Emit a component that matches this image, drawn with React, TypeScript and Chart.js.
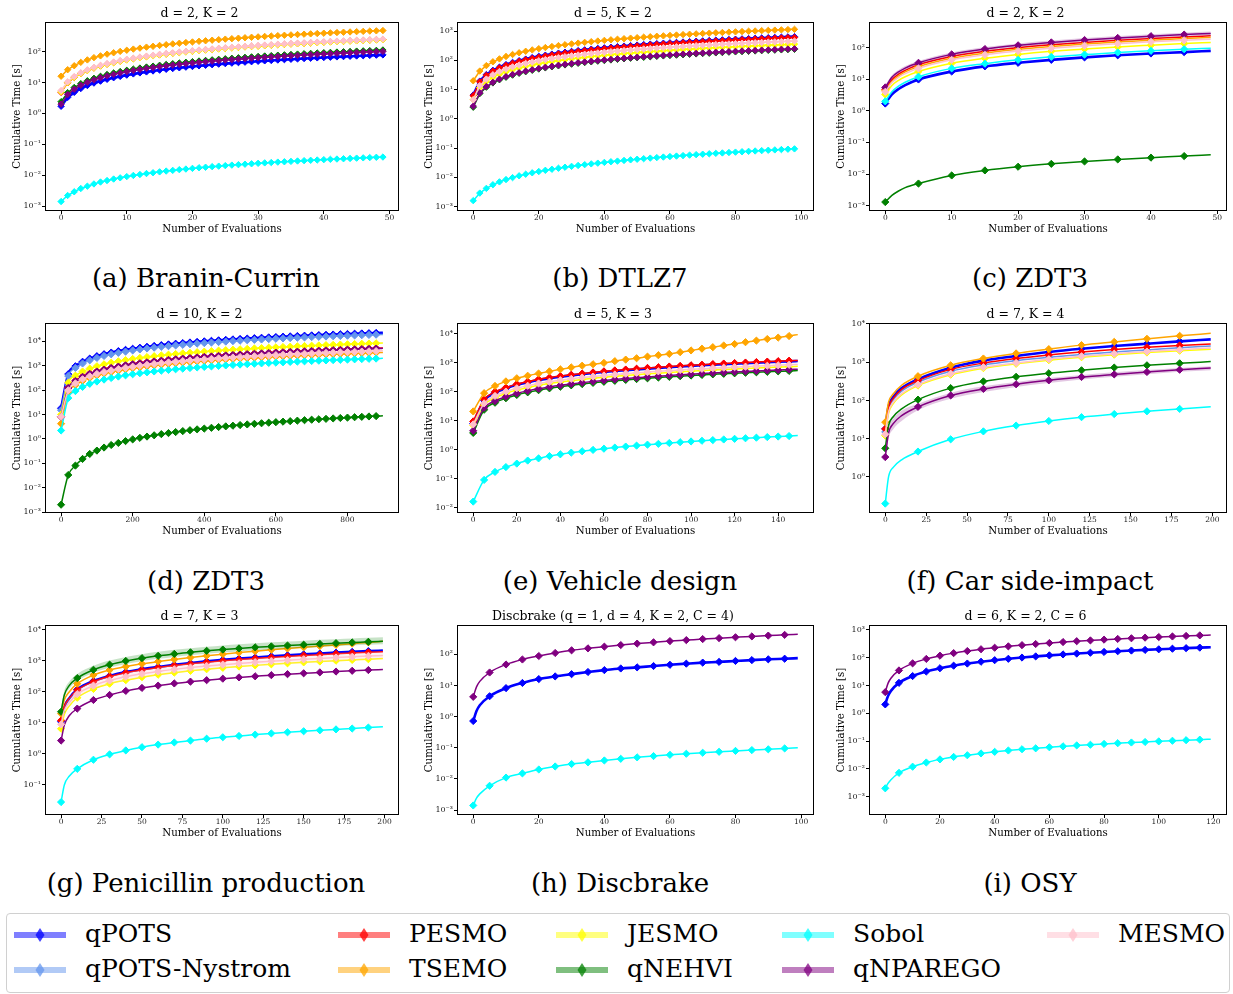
import React, { useEffect, useRef } from "react";
import { Chart, registerables } from "chart.js";
Chart.register(...registerables);

// ---------------- series identity ----------------
const SERIES_NAMES = ["qPOTS", "qPOTS-Nystrom", "PESMO", "TSEMO", "JESMO", "qNEHVI", "Sobol", "qNPAREGO", "MESMO"];
const SERIES_COLORS = ["#0000ff", "#6495ed", "#ff0000", "#ffa500", "#ffff00", "#008000", "#00ffff", "#800080", "#ffc0cb"];

// ---------------- (a) Branin-Currin ----------------
const evalsA = Array.from({ length: 50 }, (_, i) => i);
const qpotsA = [1.7, 3.3, 4.8, 6.4, 8.0, 9.6, 11.1, 12.7, 14.3, 15.8, 17.4, 19.0, 20.5, 22.1, 23.7, 25.3, 26.8, 28.4, 30.0, 31.5, 33.1, 34.7, 36.2, 37.8, 39.4, 41.0, 42.5, 44.1, 45.7, 47.2, 48.8, 50.4, 51.9, 53.5, 55.1, 56.7, 58.2, 59.8, 61.4, 62.9, 64.5, 66.1, 67.6, 69.2, 70.8, 72.4, 73.9, 75.5, 77.1, 78.6];
const pesmoA = [4.8, 9.8, 14.7, 19.7, 24.6, 29.6, 34.5, 39.5, 44.4, 49.4, 54.3, 59.3, 64.2, 69.2, 74.1, 79.1, 84, 89, 94, 99, 104, 109, 114, 119, 124, 129, 134, 139, 143, 148, 153, 158, 163, 168, 173, 178, 183, 188, 193, 198, 203, 208, 213, 218, 223, 228, 233, 237, 242, 247];
const tsemoA = [16, 26, 35, 45, 54, 64, 73, 83, 92, 102, 111, 121, 130, 140, 149, 159, 168, 178, 187, 197, 206, 216, 225, 235, 244, 254, 263, 273, 282, 292, 301, 311, 320, 330, 339, 349, 358, 368, 377, 387, 396, 406, 415, 425, 434, 444, 453, 463, 472, 482];
const jesmoA = [5.0, 9.9, 14.7, 19.6, 24.4, 29.3, 34.1, 39, 43.8, 48.7, 53.5, 58.4, 63.2, 68.1, 72.9, 77.8, 82.6, 87.5, 92.3, 97.2, 102, 107, 112, 117, 121, 126, 131, 136, 141, 146, 150, 155, 160, 165, 170, 175, 180, 184, 189, 194, 199, 204, 209, 213, 218, 223, 228, 233, 238, 243];
const qnehviA = [2.4, 4.7, 6.9, 9.2, 11.4, 13.7, 15.9, 18.2, 20.4, 22.7, 24.9, 27.2, 29.4, 31.7, 33.9, 36.2, 38.4, 40.7, 42.9, 45.2, 47.4, 49.7, 51.9, 54.2, 56.4, 58.7, 60.9, 63.2, 65.4, 67.7, 69.9, 72.2, 74.4, 76.7, 78.9, 81.2, 83.4, 85.7, 87.9, 90.2, 92.4, 94.7, 96.9, 99.2, 101, 104, 106, 108, 110, 113];
const sobolA = [0.0014, 0.0022, 0.0029, 0.0037, 0.0044, 0.0052, 0.006, 0.0067, 0.0075, 0.0082, 0.009, 0.0098, 0.0105, 0.0113, 0.012, 0.0128, 0.0136, 0.0143, 0.0151, 0.0158, 0.0166, 0.0174, 0.0181, 0.0189, 0.0196, 0.0204, 0.0212, 0.0219, 0.0227, 0.0234, 0.0242, 0.025, 0.0257, 0.0265, 0.0272, 0.028, 0.0288, 0.0295, 0.0303, 0.031, 0.0318, 0.0326, 0.0333, 0.0341, 0.0348, 0.0356, 0.0364, 0.0371, 0.0379, 0.0386];
const qnparegoA = [2.0, 4.1, 6.1, 8.2, 10.2, 12.3, 14.3, 16.4, 18.4, 20.5, 22.5, 24.6, 26.6, 28.7, 30.7, 32.8, 34.8, 36.9, 38.9, 41, 43, 45.1, 47.1, 49.2, 51.2, 53.3, 55.3, 57.4, 59.4, 61.5, 63.5, 65.6, 67.6, 69.7, 71.7, 73.8, 75.8, 77.9, 79.9, 82, 84, 86.1, 88.1, 90.2, 92.2, 94.3, 96.3, 98.4, 100, 102];
const mesmoA = [5.5, 10.6, 15.7, 20.8, 25.9, 31, 36.1, 41.2, 46.3, 51.4, 56.5, 61.6, 66.7, 71.8, 76.9, 82, 87.1, 92.2, 97.3, 102, 108, 113, 118, 123, 128, 133, 138, 143, 148, 153, 159, 164, 169, 174, 179, 184, 189, 194, 199, 204, 210, 215, 220, 225, 230, 235, 240, 245, 250, 255];

// ---------------- (b) DTLZ7 ----------------
const evalsB = Array.from({ length: 50 }, (_, i) => i * 2);
const qpotsB = [6.5, 19.5, 32.5, 45.5, 58.5, 71.5, 84.5, 97.5, 110, 124, 137, 150, 163, 176, 189, 202, 215, 228, 241, 254, 267, 280, 293, 306, 319, 332, 345, 358, 371, 384, 397, 410, 423, 436, 449, 462, 475, 488, 501, 514, 527, 540, 553, 566, 579, 592, 605, 618, 631, 644];
const pesmoB = [6.2, 18.4, 30.6, 42.8, 55, 67.2, 79.4, 91.6, 104, 116, 128, 140, 153, 165, 177, 189, 201, 214, 226, 238, 250, 262, 275, 287, 299, 311, 323, 336, 348, 360, 372, 384, 397, 409, 421, 433, 445, 458, 470, 482, 494, 506, 519, 531, 543, 555, 567, 580, 592, 604];
const tsemoB = [20, 43, 66, 89, 112, 135, 158, 181, 204, 227, 250, 273, 296, 319, 342, 365, 388, 411, 434, 457, 480, 503, 526, 549, 572, 595, 618, 641, 664, 687, 710, 733, 756, 779, 802, 825, 848, 871, 894, 917, 940, 963, 986, 1009, 1032, 1055, 1078, 1101, 1124, 1147];
const jesmoB = [4.5, 11.7, 18.9, 26.1, 33.3, 40.5, 47.7, 54.9, 62.1, 69.3, 76.5, 83.7, 90.9, 98.1, 105, 113, 120, 127, 134, 141, 149, 156, 163, 170, 177, 185, 192, 199, 206, 213, 221, 228, 235, 242, 249, 257, 264, 271, 278, 285, 293, 300, 307, 314, 321, 329, 336, 343, 350, 357];
const qnehviB = [2.5, 7.3, 12.1, 16.9, 21.7, 26.5, 31.3, 36.1, 40.9, 45.7, 50.5, 55.3, 60.1, 64.9, 69.7, 74.5, 79.3, 84.1, 88.9, 93.7, 98.5, 103, 108, 113, 118, 123, 127, 132, 137, 142, 147, 151, 156, 161, 166, 171, 175, 180, 185, 190, 195, 199, 204, 209, 214, 219, 223, 228, 233, 238];
const sobolB = [0.0016, 0.0029, 0.0042, 0.0056, 0.007, 0.0084, 0.0098, 0.0113, 0.0128, 0.0143, 0.0158, 0.0174, 0.0189, 0.0205, 0.0222, 0.0238, 0.0255, 0.0272, 0.0289, 0.0306, 0.0324, 0.0342, 0.036, 0.0379, 0.0397, 0.0416, 0.0435, 0.0455, 0.0474, 0.0494, 0.0514, 0.0534, 0.0555, 0.0576, 0.0597, 0.0618, 0.064, 0.0661, 0.0683, 0.0706, 0.0728, 0.0751, 0.0774, 0.0797, 0.082, 0.0844, 0.0868, 0.0892, 0.0917, 0.0941];
const qnparegoB = [2.7, 7.7, 12.7, 17.7, 22.7, 27.7, 32.7, 37.7, 42.7, 47.7, 52.7, 57.7, 62.7, 67.7, 72.7, 77.7, 82.7, 87.7, 92.7, 97.7, 103, 108, 113, 118, 123, 128, 133, 138, 143, 148, 153, 158, 163, 168, 173, 178, 183, 188, 193, 198, 203, 208, 213, 218, 223, 228, 233, 238, 243, 248];
const mesmoB = [4.5, 13.7, 22.9, 32.1, 41.3, 50.5, 59.7, 68.9, 78.1, 87.3, 96.5, 106, 115, 124, 133, 143, 152, 161, 170, 179, 189, 198, 207, 216, 225, 235, 244, 253, 262, 271, 281, 290, 299, 308, 317, 327, 336, 345, 354, 363, 373, 382, 391, 400, 409, 419, 428, 437, 446, 455];

// ---------------- (c) ZDT3 (d=2) ----------------
const evalsC = [0, 1, 2, 3, 5, 10, 15, 20, 25, 30, 35, 40, 45, 49];
const qpotsC = [1.7, 3.3, 4.9, 6.5, 9.8, 17.5, 25.5, 33, 41, 49, 57, 65, 72, 79];
const pesmoC = [4.8, 9.6, 14.5, 19, 28.5, 52, 76, 99, 122, 146, 170, 193, 217, 235];
const tsemoC = [4.3, 8.5, 12.8, 17, 25, 46, 67, 88, 109, 130, 151, 172, 193, 210];
const jesmoC = [3.3, 6.3, 9.2, 12, 17.5, 32, 46, 61, 76, 90, 105, 119, 134, 146];
const qnehviC = [0.0013, 0.0021, 0.0029, 0.0037, 0.005, 0.009, 0.013, 0.017, 0.021, 0.025, 0.029, 0.033, 0.037, 0.041];
const sobolC = [2.0, 4.0, 6.0, 8.0, 12, 22, 31, 41, 51, 60, 70, 79, 89, 96];
const qnparegoC = [5.5, 11.5, 17, 22.5, 33, 61, 90, 118, 146, 174, 202, 230, 258, 280];
const mesmoC = [4.0, 7.8, 11.5, 15, 22, 41, 59, 78, 96, 115, 133, 152, 170, 185];
const qnparegoUpperC = [6.4, 13.3, 19.6, 26, 38, 70, 104, 136, 168, 200, 232, 265, 297, 322];
const qnparegoLowerC = [4.8, 10, 14.8, 19.6, 28.7, 53, 78, 103, 127, 151, 176, 200, 224, 244];

// ---------------- (d) ZDT3 (d=10) ----------------
const evalsD = [...Array.from({ length: 45 }, (_, i) => i * 20), 899];
const qpotsD = [18, 450, 950, 1450, 1950, 2450, 2950, 3450, 3950, 4450, 4950, 5450, 5950, 6450, 6950, 7450, 7950, 8450, 8950, 9450, 9950, 10450, 10950, 11450, 11950, 12450, 12950, 13450, 13950, 14450, 14950, 15450, 15950, 16450, 16950, 17450, 17950, 18450, 18950, 19450, 19950, 20450, 20950, 21450, 21950, 22400];
const nystromD = [15, 380, 810, 1230, 1660, 2080, 2510, 2930, 3360, 3780, 4210, 4630, 5060, 5480, 5910, 6330, 6760, 7180, 7610, 8030, 8460, 8880, 9310, 9730, 10160, 10580, 11010, 11430, 11860, 12280, 12710, 13130, 13560, 13980, 14410, 14830, 15260, 15680, 16110, 16530, 16960, 17380, 17810, 18230, 18660, 19040];
const pesmoD = [8, 126, 244, 362, 480, 598, 716, 834, 952, 1070, 1190, 1305, 1425, 1545, 1660, 1780, 1900, 2015, 2135, 2250, 2370, 2485, 2605, 2725, 2840, 2960, 3075, 3195, 3310, 3430, 3550, 3665, 3785, 3900, 4020, 4140, 4255, 4375, 4490, 4610, 4730, 4845, 4965, 5080, 5200, 5310];
const tsemoD = [4.2, 82, 160, 238, 316, 394, 472, 550, 628, 706, 784, 862, 940, 1018, 1096, 1174, 1252, 1330, 1408, 1486, 1564, 1642, 1720, 1798, 1876, 1954, 2032, 2110, 2188, 2266, 2344, 2422, 2500, 2578, 2656, 2734, 2812, 2890, 2968, 3046, 3124, 3202, 3280, 3358, 3436, 3510];
const jesmoD = [10, 200, 390, 575, 760, 950, 1140, 1325, 1510, 1700, 1890, 2080, 2265, 2450, 2640, 2830, 3015, 3200, 3390, 3580, 3770, 3955, 4140, 4330, 4520, 4705, 4890, 5080, 5270, 5460, 5650, 5835, 6020, 6210, 6400, 6590, 6780, 6965, 7150, 7340, 7530, 7720, 7905, 8090, 8280, 8460];
const qnehviD = [0.002, 0.033, 0.08, 0.15, 0.24, 0.33, 0.44, 0.56, 0.68, 0.81, 0.95, 1.1, 1.24, 1.4, 1.56, 1.73, 1.9, 2.08, 2.26, 2.45, 2.64, 2.84, 3.05, 3.25, 3.46, 3.68, 3.9, 4.13, 4.36, 4.59, 4.83, 5.07, 5.32, 5.57, 5.83, 6.09, 6.35, 6.61, 6.88, 7.16, 7.43, 7.71, 8.0, 8.28, 8.57, 8.8];
const sobolD = [2.2, 47, 91, 135, 180, 224, 269, 313, 358, 402, 446, 491, 535, 580, 624, 668, 713, 757, 802, 846, 890, 935, 979, 1024, 1068, 1112, 1157, 1201, 1246, 1290, 1334, 1379, 1423, 1468, 1512, 1556, 1601, 1645, 1690, 1734, 1778, 1823, 1867, 1912, 1956, 2000];
const qnparegoD = [8, 122, 236, 350, 464, 578, 692, 806, 920, 1034, 1150, 1260, 1375, 1490, 1605, 1720, 1830, 1945, 2060, 2175, 2290, 2400, 2515, 2630, 2745, 2860, 2970, 3085, 3200, 3315, 3430, 3540, 3655, 3770, 3885, 4000, 4110, 4225, 4340, 4455, 4570, 4680, 4795, 4910, 5025, 5130];
const mesmoD = [8, 98, 188, 278, 368, 458, 548, 638, 728, 818, 908, 998, 1088, 1178, 1268, 1358, 1448, 1538, 1628, 1718, 1808, 1898, 1988, 2078, 2168, 2258, 2348, 2438, 2528, 2618, 2708, 2798, 2888, 2978, 3068, 3158, 3248, 3338, 3428, 3518, 3608, 3698, 3788, 3878, 3968, 4054];

// ---------------- (e) Vehicle design ----------------
const evalsE = [...Array.from({ length: 30 }, (_, i) => i * 5), 149];
const qpotsE = [8, 50, 93, 132, 175, 213, 255, 293, 332, 370, 408, 446, 484, 522, 560, 598, 636, 674, 712, 750, 788, 826, 864, 902, 940, 978, 1016, 1054, 1092, 1130, 1160];
const pesmoE = [9.5, 55, 100, 140, 185, 225, 270, 310, 350, 390, 430, 470, 510, 550, 590, 630, 670, 710, 750, 790, 830, 870, 910, 950, 990, 1030, 1070, 1110, 1150, 1190, 1220];
const tsemoE = [21, 90, 160, 230, 295, 360, 430, 510, 600, 700, 800, 900, 1000, 1150, 1300, 1450, 1650, 1850, 2050, 2350, 2700, 3100, 3500, 4000, 4500, 5200, 5900, 6700, 7500, 8500, 9500];
const jesmoE = [7, 35, 62, 88, 115, 140, 168, 193, 218, 243, 268, 293, 318, 343, 368, 393, 418, 443, 468, 493, 518, 543, 568, 593, 618, 643, 668, 693, 718, 743, 760];
const qnehviE = [3.8, 24, 42, 60, 78, 96, 114, 132, 150, 168, 186, 204, 222, 240, 258, 276, 294, 312, 330, 348, 366, 384, 402, 420, 438, 456, 474, 492, 510, 528, 545];
const sobolE = [0.016, 0.09, 0.17, 0.25, 0.33, 0.42, 0.5, 0.6, 0.69, 0.79, 0.88, 0.98, 1.08, 1.18, 1.28, 1.38, 1.49, 1.59, 1.7, 1.81, 1.92, 2.03, 2.14, 2.25, 2.37, 2.48, 2.6, 2.72, 2.84, 2.96, 3.06];
const qnparegoE = [4.5, 28, 48, 68, 88, 108, 128, 148, 168, 188, 208, 228, 248, 268, 288, 308, 328, 348, 368, 388, 408, 428, 448, 468, 488, 508, 528, 548, 568, 588, 605];
const mesmoE = [7.5, 40, 72, 102, 133, 162, 195, 223, 252, 281, 310, 338, 367, 396, 425, 454, 482, 511, 540, 569, 598, 626, 655, 684, 713, 742, 770, 799, 828, 857, 880];

// ---------------- (f) Car side-impact ----------------
const evalsF = [0, 2, 5, 10, 20, 40, 60, 80, 100, 120, 140, 160, 180, 199];
const qpotsF = [18, 70, 125, 210, 360, 720, 1100, 1450, 1850, 2250, 2650, 3050, 3500, 3950];
const nystromF = [15, 58, 105, 175, 300, 580, 850, 1100, 1350, 1600, 1850, 2100, 2400, 2650];
const pesmoF = [18, 65, 115, 195, 330, 650, 950, 1250, 1550, 1850, 2150, 2450, 2750, 3000];
const tsemoF = [27, 90, 150, 250, 430, 830, 1250, 1700, 2200, 2800, 3400, 4100, 4900, 5700];
const jesmoF = [12, 46, 84, 140, 245, 470, 700, 910, 1130, 1350, 1570, 1790, 2000, 2200];
const qnehviF = [5.6, 22, 38, 60, 105, 210, 315, 415, 515, 615, 725, 830, 935, 1040];
const sobolF = [0.2, 1.0, 1.8, 2.8, 4.6, 9.6, 15.5, 22, 29, 36.5, 44, 52, 60, 68];
const qnparegoF = [3.3, 14, 25, 40, 68, 135, 200, 265, 335, 410, 480, 555, 635, 705];
const mesmoF = [13, 50, 90, 150, 260, 500, 740, 960, 1200, 1430, 1670, 1900, 2120, 2350];
const qnparegoUpperF = [4.5, 19, 34, 54, 82, 160, 235, 305, 385, 465, 545, 625, 710, 790];
const qnparegoLowerF = [2.4, 10, 18, 29, 55, 110, 165, 225, 285, 355, 415, 485, 560, 620];

// ---------------- (g) Penicillin production ----------------
const evalsG = [0, 2, 5, ...Array.from({ length: 19 }, (_, i) => (i + 1) * 10), 199];
const qpotsG = [11, 33, 62, 120, 225, 330, 440, 540, 640, 750, 860, 970, 1080, 1190, 1300, 1410, 1520, 1630, 1740, 1850, 1960, 2070, 2170];
const pesmoG = [12, 34, 62, 115, 215, 315, 415, 510, 610, 710, 810, 910, 1010, 1110, 1210, 1300, 1400, 1500, 1600, 1700, 1800, 1900, 1990];
const tsemoG = [20, 55, 100, 185, 350, 510, 660, 810, 960, 1120, 1290, 1470, 1660, 1860, 2070, 2290, 2520, 2760, 3010, 3300, 3620, 3950, 4300];
const jesmoG = [6.5, 19, 35, 65, 125, 185, 240, 300, 360, 420, 480, 540, 600, 660, 720, 780, 840, 900, 960, 1020, 1080, 1140, 1200];
const qnehviG = [23, 80, 160, 280, 520, 760, 1000, 1230, 1460, 1690, 1900, 2120, 2330, 2540, 2750, 2950, 3150, 3350, 3550, 3750, 3950, 4150, 4350];
const sobolG = [0.028, 0.1, 0.19, 0.33, 0.65, 0.97, 1.3, 1.65, 2.0, 2.35, 2.7, 3.1, 3.45, 3.8, 4.2, 4.6, 5.0, 5.4, 5.8, 6.2, 6.6, 7.1, 7.5];
const qnparegoG = [2.7, 8.5, 17, 29, 55, 80, 108, 135, 160, 188, 215, 240, 268, 295, 320, 348, 375, 400, 428, 455, 482, 508, 532];
const mesmoG = [9, 25, 45, 85, 160, 235, 310, 385, 460, 535, 610, 685, 760, 835, 910, 985, 1060, 1135, 1210, 1285, 1360, 1435, 1500];
const qnehviUpperG = [31, 110, 215, 380, 700, 1030, 1350, 1660, 1970, 2280, 2570, 2860, 3150, 3430, 3710, 3980, 4250, 4520, 4790, 5060, 5330, 5600, 5870];
const qnehviLowerG = [18, 64, 128, 224, 416, 608, 800, 984, 1170, 1350, 1520, 1700, 1860, 2030, 2200, 2360, 2520, 2680, 2840, 3000, 3160, 3320, 3480];
const mesmoUpperG = [12, 34, 61, 115, 215, 318, 420, 520, 620, 722, 825, 925, 1025, 1130, 1230, 1330, 1430, 1530, 1635, 1735, 1835, 1940, 2030];
const mesmoLowerG = [6.8, 19, 34, 64, 120, 176, 233, 290, 345, 400, 458, 515, 570, 626, 683, 740, 795, 850, 908, 965, 1020, 1075, 1125];

// ---------------- (h) Discbrake ----------------
const evalsH = [0, 1, 2, ...Array.from({ length: 19 }, (_, i) => (i + 1) * 5), 99];
const qpotsH = [0.72, 1.5, 2.3, 4.5, 8.2, 12, 16, 19.5, 23, 27, 31, 35, 38, 42, 46, 50, 54, 57, 61, 65, 69, 72, 75];
const sobolH = [0.0014, 0.0024, 0.0033, 0.006, 0.011, 0.015, 0.02, 0.025, 0.03, 0.034, 0.039, 0.044, 0.049, 0.054, 0.059, 0.064, 0.069, 0.074, 0.079, 0.084, 0.089, 0.095, 0.1];
const qnparegoH = [4.3, 9, 13.5, 26, 47, 68, 88, 110, 134, 155, 176, 198, 220, 242, 265, 285, 308, 330, 352, 375, 398, 420, 440];

// ---------------- (i) OSY ----------------
const evalsI = [0, 1, 2, ...Array.from({ length: 23 }, (_, i) => (i + 1) * 5), 119];
const qpotsI = [2.1, 4.2, 6.3, 12.5, 22, 32, 42, 52, 62, 72, 82, 92, 102, 112, 122, 132, 142, 152, 162, 172, 182, 192, 202, 212, 222, 232, 240];
const sobolI = [0.002, 0.003, 0.004, 0.0072, 0.012, 0.017, 0.022, 0.027, 0.031, 0.036, 0.041, 0.046, 0.051, 0.055, 0.06, 0.065, 0.07, 0.074, 0.079, 0.084, 0.089, 0.093, 0.098, 0.103, 0.108, 0.113, 0.117];
const qnparegoI = [5.8, 12, 18, 35, 63, 91, 119, 147, 175, 203, 230, 258, 285, 313, 340, 368, 395, 422, 450, 477, 504, 531, 558, 585, 612, 640, 660];

// ---------------- ticks ----------------
const xTicks10 = [0, 10, 20, 30, 40, 50];
const xTicks100 = [0, 20, 40, 60, 80, 100];
const xTicksD = [0, 200, 400, 600, 800];
const xTicksE = [0, 20, 40, 60, 80, 100, 120, 140];
const xTicks200 = [0, 25, 50, 75, 100, 125, 150, 175, 200];
const xTicksI = [0, 20, 40, 60, 80, 100, 120];
const yExpA = [-3, -2, -1, 0, 1, 2];
const yExpB = [-3, -2, -1, 0, 1, 2, 3];
const yExpD = [-3, -2, -1, 0, 1, 2, 3, 4];
const yExpE = [-2, -1, 0, 1, 2, 3, 4];
const yExpF = [0, 1, 2, 3, 4];
const yExpG = [-1, 0, 1, 2, 3, 4];

type Band = { name: string; upper: number[]; lower: number[] };
type PanelDef = {
  title: string; caption: string; row: number; col: number;
  xs: number[]; every: number; markUntil: number; dense: boolean;
  xMin: number; xMax: number; xTicks: number[];
  yMinExp: number; yMaxExp: number; yTicks: number[];
  series: Record<string, number[]>; bands: Band[];
};

const PANELS: PanelDef[] = [
  { title: "d = 2, K = 2", caption: "(a) Branin-Currin", row: 0, col: 0, xs: evalsA, every: 1, markUntil: 49, dense: true,
    xMin: -2.45, xMax: 51.45, xTicks: xTicks10, yMinExp: -3.16, yMaxExp: 2.96, yTicks: yExpA,
    series: { qPOTS: qpotsA, PESMO: pesmoA, TSEMO: tsemoA, JESMO: jesmoA, qNEHVI: qnehviA, Sobol: sobolA, qNPAREGO: qnparegoA, MESMO: mesmoA }, bands: [] },
  { title: "d = 5, K = 2", caption: "(b) DTLZ7", row: 0, col: 1, xs: evalsB, every: 2, markUntil: 98, dense: true,
    xMin: -4.95, xMax: 103.95, xTicks: xTicks100, yMinExp: -3.15, yMaxExp: 3.31, yTicks: yExpB,
    series: { qPOTS: qpotsB, PESMO: pesmoB, TSEMO: tsemoB, JESMO: jesmoB, qNEHVI: qnehviB, Sobol: sobolB, qNPAREGO: qnparegoB, MESMO: mesmoB }, bands: [] },
  { title: "d = 2, K = 2", caption: "(c) ZDT3", row: 0, col: 2, xs: evalsC, every: 5, markUntil: 45, dense: false,
    xMin: -2.45, xMax: 51.45, xTicks: xTicks10, yMinExp: -3.17, yMaxExp: 2.81, yTicks: yExpA,
    series: { qPOTS: qpotsC, PESMO: pesmoC, TSEMO: tsemoC, JESMO: jesmoC, qNEHVI: qnehviC, Sobol: sobolC, qNPAREGO: qnparegoC, MESMO: mesmoC },
    bands: [{ name: "qNPAREGO", upper: qnparegoUpperC, lower: qnparegoLowerC }] },
  { title: "d = 10, K = 2", caption: "(d) ZDT3", row: 1, col: 0, xs: evalsD, every: 20, markUntil: 880, dense: false,
    xMin: -44.95, xMax: 943.95, xTicks: xTicksD, yMinExp: -3.04, yMaxExp: 4.75, yTicks: yExpD,
    series: { qPOTS: qpotsD, "qPOTS-Nystrom": nystromD, PESMO: pesmoD, TSEMO: tsemoD, JESMO: jesmoD, qNEHVI: qnehviD, Sobol: sobolD, qNPAREGO: qnparegoD, MESMO: mesmoD }, bands: [] },
  { title: "d = 5, K = 3", caption: "(e) Vehicle design", row: 1, col: 1, xs: evalsE, every: 5, markUntil: 145, dense: false,
    xMin: -7.45, xMax: 156.45, xTicks: xTicksE, yMinExp: -2.19, yMaxExp: 4.38, yTicks: yExpE,
    series: { qPOTS: qpotsE, PESMO: pesmoE, TSEMO: tsemoE, JESMO: jesmoE, qNEHVI: qnehviE, Sobol: sobolE, qNPAREGO: qnparegoE, MESMO: mesmoE }, bands: [] },
  { title: "d = 7, K = 4", caption: "(f) Car side-impact", row: 1, col: 2, xs: evalsF, every: 20, markUntil: 180, dense: false,
    xMin: -9.95, xMax: 208.95, xTicks: xTicks200, yMinExp: -0.945, yMaxExp: 4.026, yTicks: yExpF,
    series: { qPOTS: qpotsF, "qPOTS-Nystrom": nystromF, PESMO: pesmoF, TSEMO: tsemoF, JESMO: jesmoF, qNEHVI: qnehviF, Sobol: sobolF, qNPAREGO: qnparegoF, MESMO: mesmoF },
    bands: [{ name: "qNPAREGO", upper: qnparegoUpperF, lower: qnparegoLowerF }] },
  { title: "d = 7, K = 3", caption: "(g) Penicillin production", row: 2, col: 0, xs: evalsG, every: 10, markUntil: 190, dense: false,
    xMin: -9.95, xMax: 208.95, xTicks: xTicks200, yMinExp: -1.97, yMaxExp: 4.16, yTicks: yExpG,
    series: { qPOTS: qpotsG, PESMO: pesmoG, TSEMO: tsemoG, JESMO: jesmoG, qNEHVI: qnehviG, Sobol: sobolG, qNPAREGO: qnparegoG, MESMO: mesmoG },
    bands: [{ name: "qNEHVI", upper: qnehviUpperG, lower: qnehviLowerG }, { name: "MESMO", upper: mesmoUpperG, lower: mesmoLowerG }] },
  { title: "Discbrake (q = 1, d = 4, K = 2, C = 4)", caption: "(h) Discbrake", row: 2, col: 1, xs: evalsH, every: 5, markUntil: 95, dense: false,
    xMin: -4.95, xMax: 103.95, xTicks: xTicks100, yMinExp: -3.16, yMaxExp: 2.94, yTicks: yExpA,
    series: { qPOTS: qpotsH, Sobol: sobolH, qNPAREGO: qnparegoH }, bands: [] },
  { title: "d = 6, K = 2, C = 6", caption: "(i) OSY", row: 2, col: 2, xs: evalsI, every: 5, markUntil: 115, dense: false,
    xMin: -5.95, xMax: 124.95, xTicks: xTicksI, yMinExp: -3.66, yMaxExp: 3.18, yTicks: yExpB,
    series: { qPOTS: qpotsI, Sobol: sobolI, qNPAREGO: qnparegoI }, bands: [] },
];

// ---------------- layout ----------------
const COL_PLOT = [[45, 399], [457, 814], [869, 1227]];
const ROW_PLOT = [[22, 211], [323, 513], [625, 815]];
const CAPTION_X = [206, 620, 1030];
const CAPTION_BASELINE = [287, 590, 892];
const Y_AXIS_W = 45;
const X_AXIS_H = 24;
const TITLE_H = 22;
const RIGHT_PAD = 5;

const SUP: Record<string, string> = { "-": "\u207b", "0": "\u2070", "1": "\u00b9", "2": "\u00b2", "3": "\u00b3", "4": "\u2074", "5": "\u2075", "6": "\u2076", "7": "\u2077", "8": "\u2078", "9": "\u2079" };
const supStr = (n: number) => String(n).split("").map((c) => SUP[c] || c).join("");

function rgba(hex: string, a: number) {
  const n = parseInt(hex.slice(1), 16);
  return `rgba(${(n >> 16) & 255},${(n >> 8) & 255},${n & 255},${a})`;
}

const framePlugin = {
  id: "frame",
  afterDraw(chart: any) {
    const { ctx, chartArea: a } = chart;
    ctx.save();
    ctx.strokeStyle = "#000";
    ctx.lineWidth = 1;
    ctx.strokeRect(Math.round(a.left) + 0.5, Math.round(a.top) + 0.5, Math.round(a.right - a.left) - 1, Math.round(a.bottom - a.top) - 1);
    ctx.restore();
  },
};

function buildDatasets(p: PanelDef) {
  const ds: any[] = [];
  SERIES_NAMES.forEach((name, idx) => {
    const color = SERIES_COLORS[idx];
    const order = 100 - idx * 2;
    const band = p.bands.find((b) => b.name === name);
    if (band) {
      ds.push({ label: name + " upper", data: p.xs.map((x, i) => ({ x, y: band.upper[i] })), borderWidth: 0, borderColor: "rgba(0,0,0,0)", pointRadius: 0, fill: false, order: order + 1, cubicInterpolationMode: "monotone" });
      ds.push({ label: name + " lower", data: p.xs.map((x, i) => ({ x, y: band.lower[i] })), borderWidth: 0, borderColor: "rgba(0,0,0,0)", pointRadius: 0, fill: "-1", backgroundColor: rgba(color, 0.22), order: order + 1, cubicInterpolationMode: "monotone" });
    }
    const ys = p.series[name];
    if (!ys) return;
    const r = p.dense ? 3.2 : 3.6;
    ds.push({
      label: name,
      data: p.xs.map((x, i) => ({ x, y: ys[i] })),
      borderColor: color,
      backgroundColor: color,
      borderWidth: name === "qPOTS" ? 2.6 : 1.5,
      pointStyle: "rectRot",
      pointRadius: p.xs.map((x) => (x % p.every === 0 && x <= p.markUntil ? r : 0)),
      pointBorderWidth: 1,
      pointBorderColor: color,
      pointBackgroundColor: color,
      fill: false,
      cubicInterpolationMode: p.dense ? "default" : "monotone",
      tension: 0,
      order,
    });
  });
  return ds;
}

function PanelChart({ p }: { p: PanelDef }) {
  const ref = useRef<HTMLCanvasElement>(null);
  const [pl, pr] = COL_PLOT[p.col];
  const [pt, pb] = ROW_PLOT[p.row];
  const left = pl - Y_AXIS_W;
  const top = pt - TITLE_H;
  const width = pr - pl + Y_AXIS_W + RIGHT_PAD;
  const height = pb - pt + TITLE_H + X_AXIS_H;

  useEffect(() => {
    if (!ref.current) return;
    const tickFont = { family: "DejaVu Serif", size: 7.5 };
    const titleFont = { family: "DejaVu Serif", size: 10.2 };
    const grid = { display: true, drawOnChartArea: false, drawTicks: true, tickLength: 3, color: "#000", lineWidth: 1 };
    const chart = new Chart(ref.current, {
      type: "line",
      data: { datasets: buildDatasets(p) },
      options: {
        animation: false,
        responsive: false,
        devicePixelRatio: 1,
        layout: { padding: { left: 0, right: RIGHT_PAD, top: 0, bottom: 0 } },
        plugins: {
          legend: { display: false },
          tooltip: { enabled: false },
          title: {
            display: true, text: p.title, color: "#000",
            font: { family: "DejaVu Serif", size: 12.5, weight: "normal" as any, lineHeight: 1.2 },
            padding: { top: 6, bottom: 1 },
          },
        },
        scales: {
          x: {
            type: "linear", min: p.xMin, max: p.xMax,
            afterBuildTicks: (s: any) => { s.ticks = p.xTicks.map((v) => ({ value: v })); },
            afterFit: (s: any) => { s.height = X_AXIS_H; },
            ticks: { callback: (v: any) => String(v), font: tickFont, color: "#222", padding: 0, maxRotation: 0, autoSkip: false },
            grid, border: { display: false },
            title: { display: true, text: "Number of Evaluations", color: "#000", font: titleFont, padding: { top: 0, bottom: 0 } },
          },
          y: {
            type: "logarithmic", min: Math.pow(10, p.yMinExp), max: Math.pow(10, p.yMaxExp),
            afterBuildTicks: (s: any) => { s.ticks = p.yTicks.map((e) => ({ value: Math.pow(10, e) })); },
            afterFit: (s: any) => { s.width = Y_AXIS_W; },
            ticks: { callback: (v: any) => "10" + supStr(Math.round(Math.log10(Number(v)))), font: { family: "DejaVu Serif", size: 8 }, color: "#222", padding: 1, autoSkip: false },
            grid, border: { display: false },
            title: { display: true, text: "Cumulative Time [s]", color: "#000", font: titleFont, padding: { top: 11, bottom: 0 } },
          },
        },
      } as any,
      plugins: [framePlugin],
    });
    return () => chart.destroy();
  }, [p]);

  return (
    <canvas
      ref={ref}
      width={width}
      height={height}
      style={{ position: "absolute", left, top, width, height }}
    />
  );
}

// ---------------- legend ----------------
const LEGEND_COL_TEXT_X = [85, 409, 627, 853, 1118];
const LEGEND_ROW_BASELINE = [943, 978];
const LEGEND_LAYOUT: [string, number, number][] = [
  ["qPOTS", 0, 0], ["qPOTS-Nystrom", 0, 1], ["PESMO", 1, 0], ["TSEMO", 1, 1], ["JESMO", 2, 0],
  ["qNEHVI", 2, 1], ["Sobol", 3, 0], ["qNPAREGO", 3, 1], ["MESMO", 4, 0],
];

function Legend() {
  return (
    <>
      <div style={{ position: "absolute", left: 6, top: 913, width: 1222, height: 78, border: "1px solid #d0d0d0", borderRadius: 4, background: "#fff" }} />
      {LEGEND_LAYOUT.map(([name, col, row]) => {
        const color = SERIES_COLORS[SERIES_NAMES.indexOf(name)];
        const tx = LEGEND_COL_TEXT_X[col];
        const base = LEGEND_ROW_BASELINE[row];
        const cy = base - 8;
        return (
          <React.Fragment key={name}>
            <svg width={52} height={20} style={{ position: "absolute", left: tx - 71, top: cy - 10 }}>
              <line x1={0} y1={10} x2={52} y2={10} stroke={color} strokeWidth={6} strokeOpacity={0.5} />
              <polygon points="26,3 30.5,10 26,17 21.5,10" fill={color} fillOpacity={0.75} />
            </svg>
            <div style={{ position: "absolute", left: tx, top: base - 24, height: 30, lineHeight: "30px", fontSize: 25, fontFamily: "DejaVu Serif", color: "#000", whiteSpace: "nowrap" }}>
              {name}
            </div>
          </React.Fragment>
        );
      })}
    </>
  );
}

export default function App() {
  return (
    <div style={{ position: "absolute", left: 0, top: 0, width: 1233, height: 994, background: "#fff", overflow: "hidden" }}>
      {PANELS.map((p, i) => (
        <PanelChart key={i} p={p} />
      ))}
      {PANELS.map((p, i) => (
        <div
          key={"cap" + i}
          style={{
            position: "absolute", left: CAPTION_X[p.col] - 200, width: 400, top: CAPTION_BASELINE[p.row] - 24,
            height: 30, lineHeight: "30px", fontSize: 26, fontFamily: "DejaVu Serif", textAlign: "center", color: "#000", whiteSpace: "nowrap",
          }}
        >
          {p.caption}
        </div>
      ))}
      <Legend />
    </div>
  );
}
